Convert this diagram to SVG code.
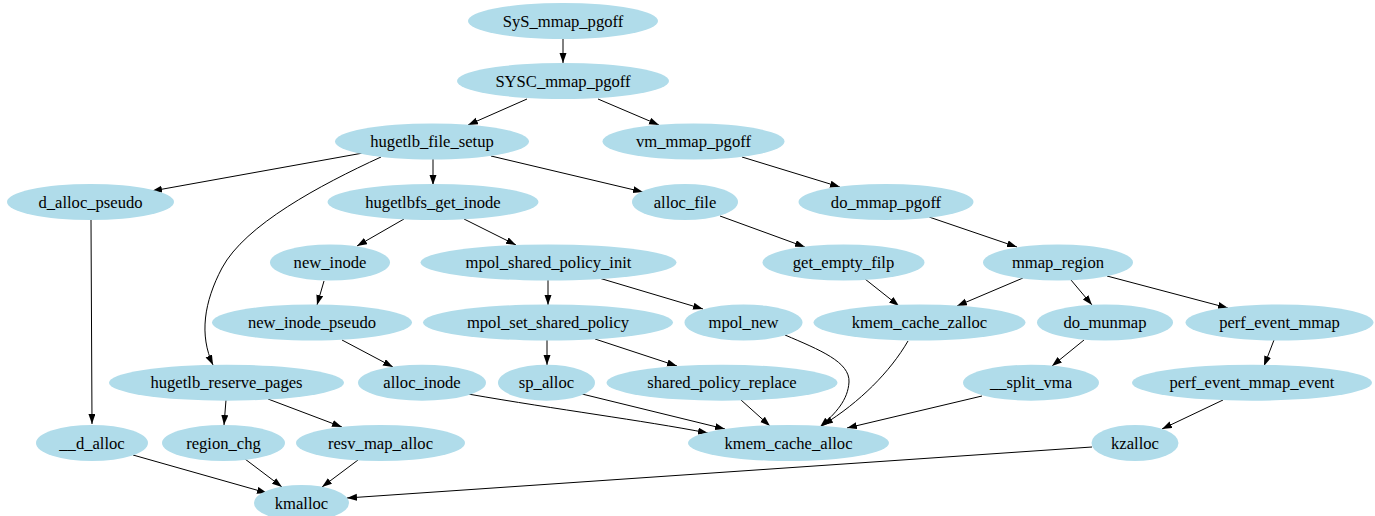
<svg xmlns="http://www.w3.org/2000/svg" width="1375" height="516" viewBox="0 0 1375 516">
  <style>
    .node ellipse { fill: #b0dcea; stroke: none; }
    .node text { font-family: "Liberation Serif", "Times New Roman", serif; font-size: 16.6px; fill: #000; text-anchor: middle; }
    .edges path { fill: none; stroke: #000; stroke-width: 1; marker-end: url(#arrow); }
  </style>
  <defs>
    <marker id="arrow" markerUnits="userSpaceOnUse" markerWidth="11" markerHeight="8" refX="10" refY="3.5" orient="auto">
      <path d="M0,0 L10,3.5 L0,7 z" fill="#000"/>
    </marker>
  </defs>

  <!-- call edges -->
  <g id="edges" class="edges">
    <path d="M563,39 L563,63"/>
    <path d="M527,99 L468,125"/>
    <path d="M598,99 L659,125"/>
    <path d="M363,153 L152,191"/>
    <path d="M433,159 L433,185"/>
    <path d="M491,156 L643,192"/>
    <path d="M381,157 C320,185 245,225 222,268 C204,302 199,335 213,365"/>
    <path d="M742,157 L840,187"/>
    <path d="M91,220 L92,424"/>
    <path d="M404,219 L357,246"/>
    <path d="M464,219 L516,245"/>
    <path d="M720,216 L805,247"/>
    <path d="M929,217 L1017,247"/>
    <path d="M324,281 L317,305"/>
    <path d="M548,280 L548,305"/>
    <path d="M599,278 L703,309"/>
    <path d="M865,279 L899,306"/>
    <path d="M1023,278 L957,306"/>
    <path d="M1071,280 L1092,305"/>
    <path d="M1107,276 L1228,308"/>
    <path d="M342,340 L393,367"/>
    <path d="M547,340 L547,365"/>
    <path d="M595,339 L677,366"/>
    <path d="M785,335 C820,350 850,362 849,382 C848,400 836,413 820,427"/>
    <path d="M908,341 C890,372 860,402 823,425"/>
    <path d="M1084,340 L1052,366"/>
    <path d="M1274,340 L1264,366"/>
    <path d="M226,400 L224,425"/>
    <path d="M268,399 L342,427"/>
    <path d="M468,394 C560,410 640,420 708,433"/>
    <path d="M582,394 L725,429"/>
    <path d="M741,400 L770,426"/>
    <path d="M982,396 L847,428"/>
    <path d="M1223,400 L1162,429"/>
    <path d="M133,455 L267,493"/>
    <path d="M245,459 L282,487"/>
    <path d="M358,460 L322,487"/>
    <path d="M1092,447 L347,498"/>
  </g>

  <!-- functions -->
  <g id="SyS_mmap_pgoff" class="node"><ellipse cx="563" cy="21" rx="95" ry="18"/><text x="563" y="26.5">SyS_mmap_pgoff</text></g>
  <g id="SYSC_mmap_pgoff" class="node"><ellipse cx="563" cy="81" rx="106" ry="18"/><text x="563" y="86.5">SYSC_mmap_pgoff</text></g>
  <g id="hugetlb_file_setup" class="node"><ellipse cx="432" cy="141.5" rx="97" ry="18"/><text x="432" y="147">hugetlb_file_setup</text></g>
  <g id="vm_mmap_pgoff" class="node"><ellipse cx="693.5" cy="141.5" rx="91" ry="18"/><text x="693.5" y="147">vm_mmap_pgoff</text></g>
  <g id="d_alloc_pseudo" class="node"><ellipse cx="90.5" cy="202" rx="83.5" ry="18"/><text x="90.5" y="207.5">d_alloc_pseudo</text></g>
  <g id="hugetlbfs_get_inode" class="node"><ellipse cx="433" cy="202" rx="105.5" ry="18"/><text x="433" y="207.5">hugetlbfs_get_inode</text></g>
  <g id="alloc_file" class="node"><ellipse cx="685" cy="202" rx="53" ry="18"/><text x="685" y="207.5">alloc_file</text></g>
  <g id="do_mmap_pgoff" class="node"><ellipse cx="886" cy="202" rx="87.5" ry="18"/><text x="886" y="207.5">do_mmap_pgoff</text></g>
  <g id="new_inode" class="node"><ellipse cx="330" cy="262.5" rx="60" ry="18"/><text x="330" y="268">new_inode</text></g>
  <g id="mpol_shared_policy_init" class="node"><ellipse cx="548.5" cy="262.5" rx="128" ry="18"/><text x="548.5" y="268">mpol_shared_policy_init</text></g>
  <g id="get_empty_filp" class="node"><ellipse cx="843.5" cy="262.5" rx="81" ry="18"/><text x="843.5" y="268">get_empty_filp</text></g>
  <g id="mmap_region" class="node"><ellipse cx="1058" cy="262.5" rx="75" ry="18"/><text x="1058" y="268">mmap_region</text></g>
  <g id="new_inode_pseudo" class="node"><ellipse cx="312" cy="322.5" rx="100" ry="18"/><text x="312" y="328">new_inode_pseudo</text></g>
  <g id="mpol_set_shared_policy" class="node"><ellipse cx="548" cy="322.5" rx="125" ry="18"/><text x="548" y="328">mpol_set_shared_policy</text></g>
  <g id="mpol_new" class="node"><ellipse cx="743.5" cy="322.5" rx="59" ry="18"/><text x="743.5" y="328">mpol_new</text></g>
  <g id="kmem_cache_zalloc" class="node"><ellipse cx="919.5" cy="322.5" rx="106" ry="18"/><text x="919.5" y="328">kmem_cache_zalloc</text></g>
  <g id="do_munmap" class="node"><ellipse cx="1105" cy="322.5" rx="68" ry="18"/><text x="1105" y="328">do_munmap</text></g>
  <g id="perf_event_mmap" class="node"><ellipse cx="1279.5" cy="322.5" rx="94" ry="18"/><text x="1279.5" y="328">perf_event_mmap</text></g>
  <g id="hugetlb_reserve_pages" class="node"><ellipse cx="226.5" cy="382.7" rx="117.5" ry="18"/><text x="226.5" y="388.2">hugetlb_reserve_pages</text></g>
  <g id="alloc_inode" class="node"><ellipse cx="422" cy="382.7" rx="64" ry="18"/><text x="422" y="388.2">alloc_inode</text></g>
  <g id="sp_alloc" class="node"><ellipse cx="546.5" cy="382.7" rx="48.5" ry="18"/><text x="546.5" y="388.2">sp_alloc</text></g>
  <g id="shared_policy_replace" class="node"><ellipse cx="722" cy="382.7" rx="115.5" ry="18"/><text x="722" y="388.2">shared_policy_replace</text></g>
  <g id="__split_vma" class="node"><ellipse cx="1031" cy="382.7" rx="68" ry="18"/><text x="1031" y="388.2">__split_vma</text></g>
  <g id="perf_event_mmap_event" class="node"><ellipse cx="1252" cy="382.7" rx="120" ry="18"/><text x="1252" y="388.2">perf_event_mmap_event</text></g>
  <g id="__d_alloc" class="node"><ellipse cx="92" cy="443" rx="56" ry="18"/><text x="92" y="448.5">__d_alloc</text></g>
  <g id="region_chg" class="node"><ellipse cx="223.5" cy="443" rx="61.5" ry="18"/><text x="223.5" y="448.5">region_chg</text></g>
  <g id="resv_map_alloc" class="node"><ellipse cx="380.5" cy="443" rx="84.5" ry="18"/><text x="380.5" y="448.5">resv_map_alloc</text></g>
  <g id="kmem_cache_alloc" class="node"><ellipse cx="788.5" cy="443" rx="100.5" ry="18"/><text x="788.5" y="448.5">kmem_cache_alloc</text></g>
  <g id="kzalloc" class="node"><ellipse cx="1135" cy="443" rx="43.5" ry="18"/><text x="1135" y="448.5">kzalloc</text></g>
  <g id="kmalloc" class="node"><ellipse cx="301.5" cy="503" rx="47.5" ry="18"/><text x="301.5" y="508.5">kmalloc</text></g>
</svg>
